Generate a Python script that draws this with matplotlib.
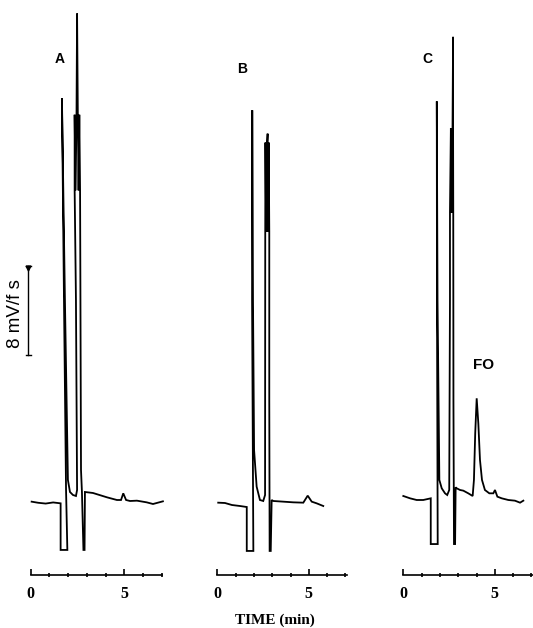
import matplotlib
matplotlib.use("Agg")
import matplotlib.pyplot as plt
from matplotlib.ticker import FixedLocator, NullFormatter, FixedFormatter

# ---------------- data (time in min, signal in mV) ----------------
panel_labels = ["A", "B", "C"]

time_A = [0.05, 0.40, 0.80, 1.20, 1.60, 1.60, 1.96, 1.89, 1.78, 1.67, 1.83, 1.99, 2.10, 2.26, 2.42,
          2.48, 2.42, 2.35, 2.35, 2.40, 2.45, 2.48, 2.52, 2.56, 2.60, 2.64, 2.66, 2.69, 2.74, 2.82, 2.88, 2.90,
          3.33, 4.08, 4.61, 4.83, 4.95, 5.10, 5.31, 5.68, 6.20, 6.54, 7.07]
sig_A = [0.12, 0.02, -0.05, 0.05, -0.03, -4.22, -4.22, 1.17, 18.25, 36.4, 18.25, 2.07, 0.99, 0.72, 0.63,
         1.17, 18.25, 28.1, 34.9, 28.1, 34.9, 44.0, 34.9, 28.1, 34.9, 28.1, 18.25, 2.97, 0.99, -4.22, -4.22, 0.99,
         0.90, 0.51, 0.27, 0.27, 0.87, 0.27, 0.18, 0.21, 0.06, -0.09, 0.15]

time_B = [0.05, 0.42, 0.80, 1.24, 1.61, 1.61, 1.97, 1.90, 1.91, 1.95, 2.01, 2.15, 2.33, 2.51,
          2.61, 2.62, 2.63, 2.67, 2.72, 2.75, 2.77, 2.81, 2.84, 2.84, 2.86, 2.92, 2.97,
          3.06, 3.61, 4.15, 4.70, 4.94, 5.16, 5.43, 5.79]
sig_B = [0.03, 0.00, -0.18, -0.27, -0.36, -4.31, -4.31, 18.25, 35.3, 18.25, 4.76, 1.47, 0.27, 0.18,
         0.72, 24.4, 32.4, 24.4, 32.4, 33.2, 24.4, 32.4, 24.4, 9.26, -4.31, -4.31, 0.27,
         0.18, 0.12, 0.06, 0.03, 0.66, 0.12, -0.03, -0.27]

time_C = [0.00, 0.37, 0.73, 1.09, 1.50, 1.50, 1.88, 1.84, 1.83, 1.87, 1.97, 2.10, 2.28, 2.40, 2.51,
          2.55, 2.55, 2.60, 2.64, 2.69, 2.72, 2.72, 2.73, 2.74, 2.77, 2.83, 2.86,
          2.92, 3.10, 3.28, 3.55, 3.79, 3.86, 3.93, 4.01, 4.10, 4.19, 4.30, 4.46, 4.70, 4.92, 5.01,
          5.14, 5.38, 5.74, 6.10, 6.38, 6.56]
sig_C = [0.63, 0.42, 0.27, 0.27, 0.42, -3.69, -3.69, 18.25, 36.1, 18.25, 2.07, 1.32, 0.87, 0.72, 1.17,
         18.25, 26.1, 33.7, 26.1, 33.7, 41.9, 33.7, 26.1, 9.26, -3.69, -3.69, 1.41,
         1.32, 1.17, 1.11, 0.87, 0.63, 2.07, 6.27, 9.41, 7.16, 3.87, 2.07, 1.17, 0.87, 0.87, 1.17,
         0.57, 0.42, 0.27, 0.21, 0.03, 0.21]

peak_label = "FO"
peak_label_pos = (4.37, 12.4)
tick_major = [0, 5]
tick_minor = [1, 2, 3, 4, 6, 7]
tick_major_labels = ["0", "5"]
scale_bar_mv = 8
scale_bar_text = "8 mV/f s"
xlabel_text = "TIME (min)"

# ---------------- layout ----------------
W, H = 533, 628
fig = plt.figure(figsize=(W / 100, H / 100), dpi=100)

# per panel: pixel x of t=0, px per min, axis end (min), label position
panels = [
    dict(x0=30.7, k=18.7, xlim=(-0.9, 7.4), end=7.0, t=time_A, s=sig_A, lab=(1.53, 39.9)),
    dict(x0=217.3, k=18.3, xlim=(-0.5, 7.4), end=7.07, t=time_B, s=sig_B, lab=(1.37, 39.0)),
    dict(x0=403.3, k=18.3, xlim=(-0.5, 7.1), end=7.1, t=time_C, s=sig_C, lab=(1.31, 39.9)),
]
px_per_mv = 11.125
base_px = 503
ylim = ((base_px - H) / px_per_mv, base_px / px_per_mv)
axis_level = (base_px - 575) / px_per_mv

serif_bold = dict(family="Liberation Serif", weight="bold")
sans_bold = dict(family="Liberation Sans", weight="bold")

axes = []
for p, lab in zip(panels, panel_labels):
    xa, xb = p["xlim"]
    left = (p["x0"] + xa * p["k"]) / W
    width = (xb - xa) * p["k"] / W
    ax = fig.add_axes([left, 0, width, 1])
    ax.set_xlim(xa, xb)
    ax.set_ylim(*ylim)
    ax.patch.set_alpha(0)
    for sp in ["top", "right", "left"]:
        ax.spines[sp].set_visible(False)
    ax.spines["bottom"].set_position(("data", axis_level))
    ax.spines["bottom"].set_bounds(0, p["end"])
    ax.spines["bottom"].set_linewidth(1.2)
    ax.yaxis.set_visible(False)
    ax.xaxis.set_major_locator(FixedLocator(tick_major))
    ax.xaxis.set_major_formatter(FixedFormatter(tick_major_labels))
    ax.xaxis.set_minor_locator(FixedLocator(tick_minor))
    ax.xaxis.set_minor_formatter(NullFormatter())
    ax.tick_params(axis="x", which="major", direction="in", length=4.5, width=1.2, pad=8)
    ax.tick_params(axis="x", which="minor", direction="inout", length=3, width=1.2)
    for tl in ax.get_xticklabels():
        tl.set_fontfamily("Liberation Serif")
        tl.set_fontweight("bold")
        tl.set_fontsize(11.5)
    ax.plot(p["t"], p["s"], color="black", lw=1.3, solid_joinstyle="miter", clip_on=False)
    ax.text(p["lab"][0], p["lab"][1], lab, ha="center", va="center", fontsize=10, **sans_bold)
    axes.append(ax)

# FO label on panel C
axes[2].text(peak_label_pos[0], peak_label_pos[1], peak_label, ha="center", va="center",
             fontsize=11, **sans_bold)

# scale bar on panel A
axA = axes[0]
sb_x = -0.14
sb_bottom = (base_px - 355) / px_per_mv
axA.plot([sb_x, sb_x], [sb_bottom, sb_bottom + scale_bar_mv], color="black", lw=1.0, clip_on=False)
axA.plot([sb_x - 0.13, sb_x + 0.13], [sb_bottom, sb_bottom], color="black", lw=1.0, clip_on=False)
axA.plot([sb_x - 0.13, sb_x + 0.13], [sb_bottom + scale_bar_mv] * 2, color="black", lw=1.0, clip_on=False)
axA.plot([sb_x], [sb_bottom + scale_bar_mv - 0.2], marker="v", ms=3.5, color="black", clip_on=False)
fig.text(15.5 / W, 1 - 314 / H, scale_bar_text, rotation=90, ha="center", va="center",
         fontsize=13.5, family="Liberation Sans")

fig.text(275 / W, 1 - 620 / H, xlabel_text, ha="center", va="center", fontsize=11, **serif_bold)

fig.savefig("out.png", dpi=100)
